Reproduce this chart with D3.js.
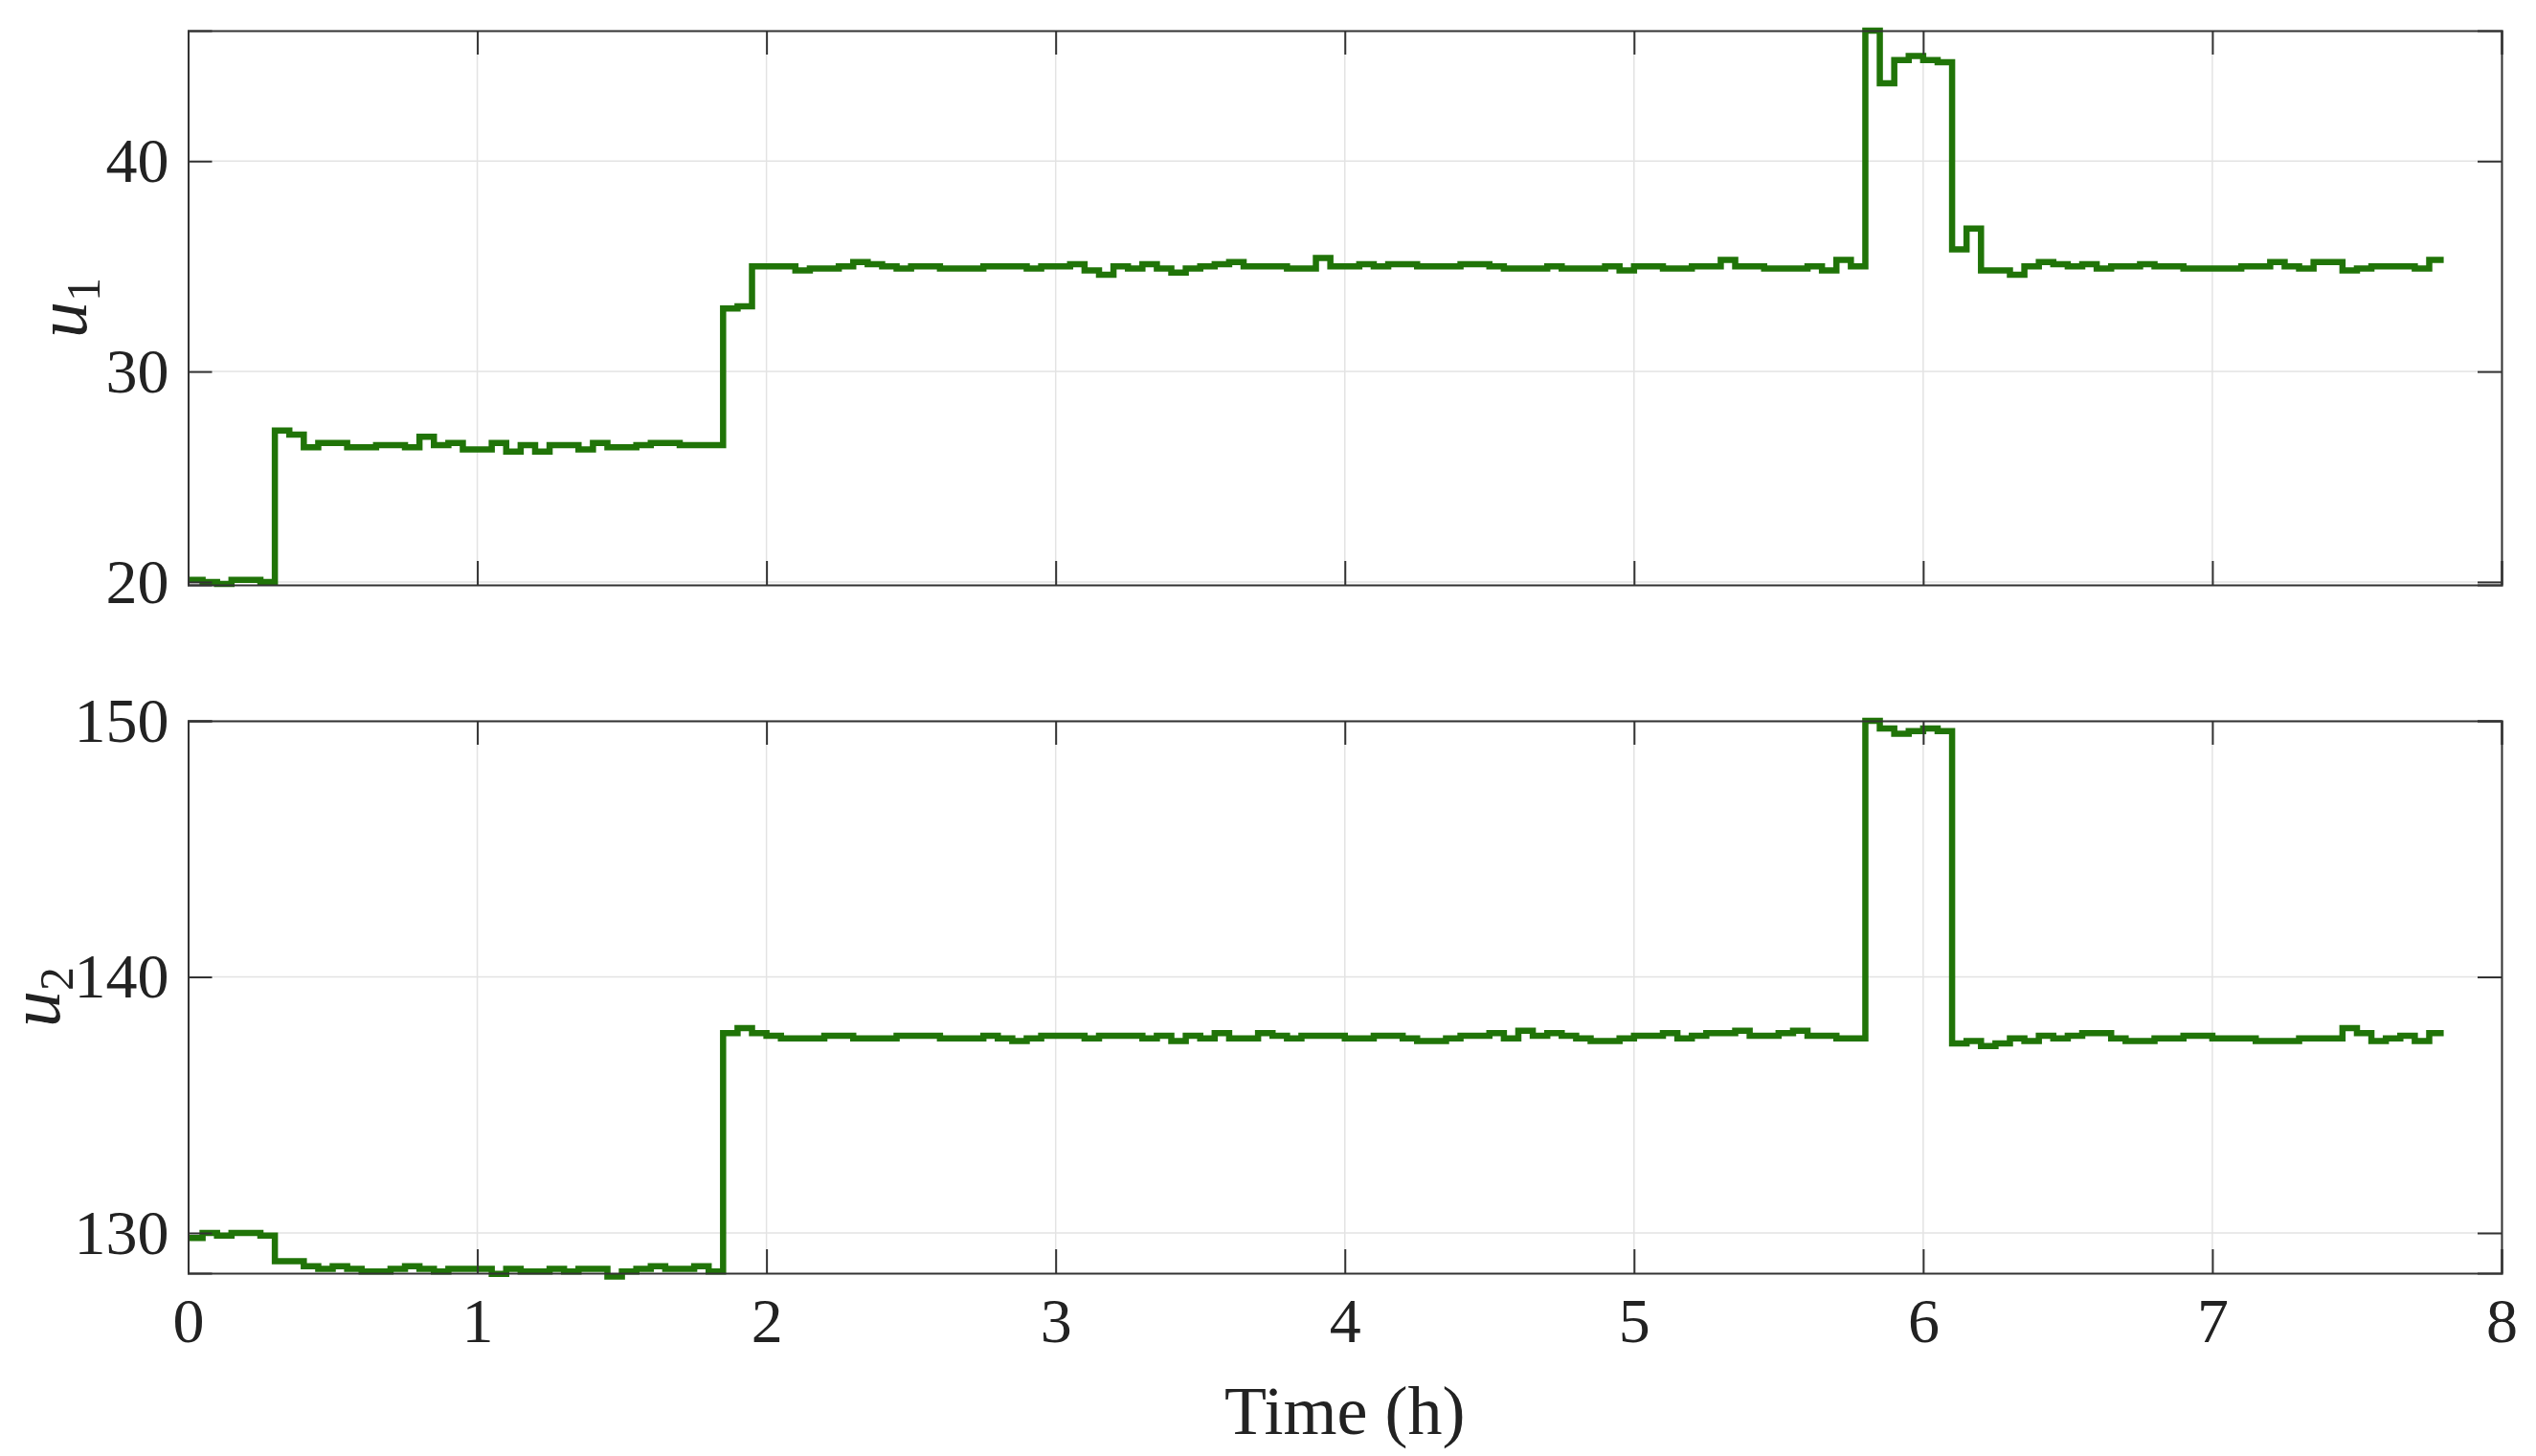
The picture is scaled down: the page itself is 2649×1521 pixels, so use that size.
<!DOCTYPE html>
<html><head><meta charset="utf-8">
<script src="https://cdn.jsdelivr.net/npm/d3@7"></script>
<style>body{margin:0;background:#fff}</style></head>
<body><svg id="c" width="2649" height="1521"></svg>
<script>
const dt = 0.05;
const tEnd = 7.8;
const xTicks = [0,1,2,3,4,5,6,7,8];
const u1Ticks = [20,30,40];
const u2Ticks = [130,140,150];
const u1 = [20.1,20.0,19.9,20.1,20.1,20.0,
27.2,27.0,26.4,26.6,26.6,26.4,26.4,26.5,26.5,26.4,26.9,26.5,26.6,26.3,26.3,26.6,26.2,26.5,26.2,26.5,26.5,26.3,26.6,26.4,26.4,26.5,26.6,26.6,26.5,26.5,26.5,
33.0,33.1,
35.0,35.0,35.0,34.8,34.9,34.9,35.0,35.2,35.1,35.0,
34.9,35.0,35.0,34.9,34.9,34.9,35.0,35.0,35.0,34.9,
35.0,35.0,35.1,34.8,34.6,35.0,34.9,35.1,34.9,34.7,
34.9,35.0,35.1,35.2,35.0,35.0,35.0,34.9,34.9,35.4,
35.0,35.0,35.1,35.0,35.1,35.1,35.0,35.0,35.0,35.1,
35.1,35.0,34.9,34.9,34.9,35.0,34.9,34.9,34.9,35.0,
34.8,35.0,35.0,34.9,34.9,35.0,35.0,35.3,35.0,35.0,
34.9,34.9,34.9,35.0,34.8,35.3,35.0,
46.2,43.7,44.8,45.0,44.8,44.7,
35.8,36.8,34.8,34.8,34.6,35.0,35.2,35.1,35.0,35.1,
34.9,35.0,35.0,35.1,35.0,35.0,34.9,34.9,34.9,34.9,
35.0,35.0,35.2,35.0,34.9,35.2,35.2,34.8,34.9,35.0,
35.0,35.0,34.9,35.3];
const u2 = [129.8,130.0,129.9,130.0,130.0,129.9,
128.9,128.9,128.7,128.6,128.7,128.6,128.5,128.5,128.6,128.7,128.6,128.5,128.6,128.6,128.6,128.4,128.6,128.5,128.5,128.6,128.5,128.6,128.6,128.3,128.5,128.6,128.7,128.6,128.6,128.7,128.5,
137.8,138.0,
137.8,137.7,137.6,137.6,137.6,137.7,137.7,137.6,137.6,137.6,
137.7,137.7,137.7,137.6,137.6,137.6,137.7,137.6,137.5,137.6,
137.7,137.7,137.7,137.6,137.7,137.7,137.7,137.6,137.7,137.5,
137.7,137.6,137.8,137.6,137.6,137.8,137.7,137.6,137.7,137.7,
137.7,137.6,137.6,137.7,137.7,137.6,137.5,137.5,137.6,137.7,
137.7,137.8,137.6,137.9,137.7,137.8,137.7,137.6,137.5,137.5,
137.6,137.7,137.7,137.8,137.6,137.7,137.8,137.8,137.9,137.7,
137.7,137.8,137.9,137.7,137.7,137.6,137.6,
150.0,149.7,149.5,149.6,149.7,149.6,
137.4,137.5,137.3,137.4,137.6,137.5,137.7,137.6,137.7,137.8,
137.8,137.6,137.5,137.5,137.6,137.6,137.7,137.7,137.6,137.6,
137.6,137.5,137.5,137.5,137.6,137.6,137.6,138.0,137.8,137.5,
137.6,137.7,137.5,137.8];

const svg = d3.select('#c');
const L = 196.5, R = 2613;
const x = d3.scaleLinear().domain([0,8]).range([L,R]);
const font = '"Liberation Serif", "DejaVu Serif", serif';
const color = '#207408';

function panel(vals, domain, ticks, top, bottom, label, showX, labelX){
  const y = d3.scaleLinear().domain(domain).range([bottom, top]);
  const g = svg.append('g');
  g.selectAll('.gx').data(xTicks).join('line').attr('x1',d=>x(d)).attr('x2',d=>x(d))
    .attr('y1',top).attr('y2',bottom).attr('stroke','#e3e3e3').attr('stroke-width',1.5);
  g.selectAll('.gy').data(ticks).join('line').attr('y1',d=>y(d)).attr('y2',d=>y(d))
    .attr('x1',L).attr('x2',R).attr('stroke','#e3e3e3').attr('stroke-width',1.5);
  const pts = vals.map((v,i)=>[i*dt, v]);
  pts.push([tEnd, vals[vals.length-1]]);
  const line = d3.line().x(d=>x(d[0])).y(d=>y(d[1])).curve(d3.curveStepAfter);
  g.append('path').attr('d', line(pts)).attr('fill','none').attr('stroke',color)
    .attr('stroke-width',6.5).attr('stroke-linejoin','miter');
  const tl = 25;
  g.append('g').attr('class','xb').attr('transform',`translate(0,${bottom})`)
    .call(d3.axisBottom(x).tickValues(xTicks).tickSize(-tl).tickPadding(22).tickFormat(showX? d3.format('d') : ''));
  g.append('g').attr('transform',`translate(0,${top})`)
    .call(d3.axisTop(x).tickValues(xTicks).tickSize(-tl).tickFormat(''));
  g.append('g').attr('transform',`translate(${L},0)`)
    .call(d3.axisLeft(y).tickValues(ticks).tickSize(-tl).tickPadding(20).tickFormat(d3.format('d')));
  g.append('g').attr('transform',`translate(${R},0)`)
    .call(d3.axisRight(y).tickValues(ticks).tickSize(-tl).tickFormat(''));
  g.selectAll('.domain').attr('stroke','#333').attr('stroke-width',2);
  g.selectAll('.tick line').attr('stroke','#333').attr('stroke-width',2);
  g.selectAll('.tick text').attr('font-family',font).attr('font-size',66).attr('fill','#222');
  g.selectAll('.xb .tick text').attr('dy','0.75em');
  const t = g.append('text').attr('transform',`translate(${labelX},${(top+bottom)/2}) rotate(-90)`)
    .attr('text-anchor','middle').attr('font-family',font).attr('font-size',76).attr('fill','#222');
  t.append('tspan').attr('font-style','italic').text('u');
  t.append('tspan').attr('font-size',50).attr('dy',14).text(label);
}
panel(u1, [19.86,46.2], u1Ticks, 32, 611, '1', false, 90);
panel(u2, [128.43,150], u2Ticks, 753, 1330, '2', true, 62);
svg.append('text').attr('x',(L+R)/2).attr('y',1498).attr('text-anchor','middle')
  .attr('font-family',font).attr('font-size',72).attr('fill','#222').text('Time (h)');
</script></body></html>
